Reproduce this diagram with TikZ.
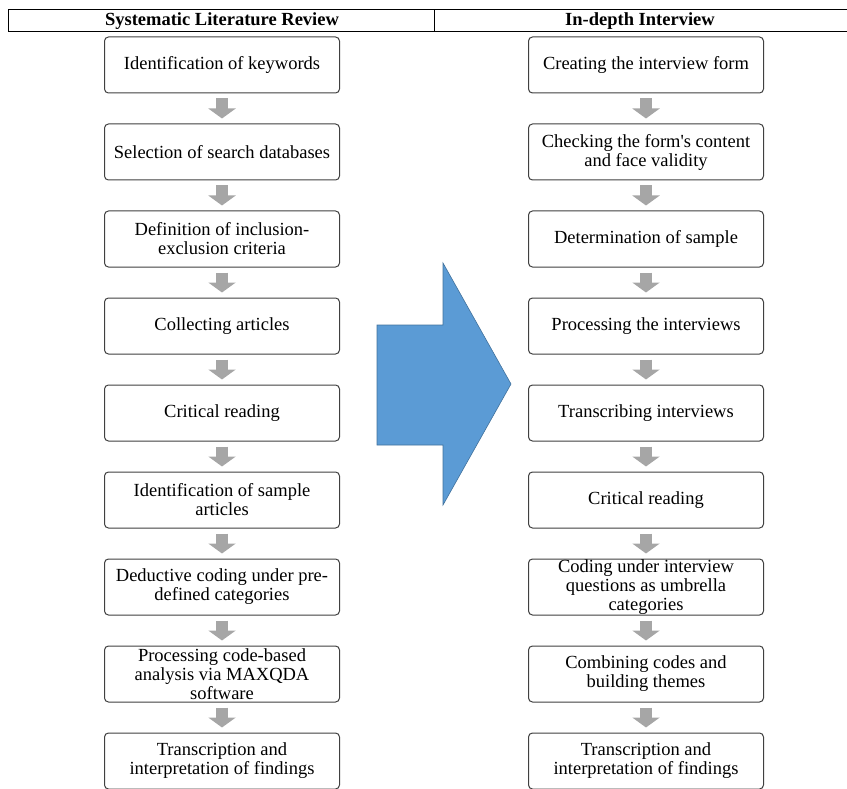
\documentclass[tikz,border=0pt]{standalone}
\usepackage{fontspec}
\setmainfont{Liberation Serif}
\usepackage{tikz}
\usetikzlibrary{arrows.meta, positioning}
\definecolor{boxline}{HTML}{404040}
\definecolor{flowgray}{HTML}{A6A6A6}
\definecolor{bigblue}{HTML}{5B9BD5}
\definecolor{bigblueline}{HTML}{41719C}

\begin{document}
\begin{tikzpicture}[x=1pt, y=1pt, node distance=30pt,
		font=\fontsize{18.5}{19}\selectfont,
		stepbox/.style={draw=boxline, line width=1pt, rounded corners=4pt, fill=white, minimum width=235pt, minimum height=56pt, inner ysep=0pt, align=center},
		flowarrow/.style={-{Triangle[width=27pt, length=10pt]}, line width=12pt, flowgray, shorten <=5pt, shorten >=5pt},
		headtext/.style={font=\fontsize{18.5}{19}\selectfont\bfseries}]
	\useasboundingbox (0,0) rectangle (847,-789);
	% header table
	\draw[line width=1pt] (8,-10) -- (847,-10);
	\draw[line width=1pt] (8,-32) -- (847,-32);
	\draw[line width=0.8pt] (8,-10) -- (8,-32);
	\draw[line width=0.8pt] (434,-10) -- (434,-32);
	\node[headtext] (slrhead) at (222,-21) {Systematic Literature Review};
	\node[headtext] (inthead) at (640,-21) {In-depth Interview};
	% left column
	\node[stepbox] (kw) at (222,-65) {Identification of keywords};
	\node[stepbox, below=of kw] (db) {Selection of search databases};
	\node[stepbox, below=of db] (crit) {Definition of inclusion-\\exclusion criteria};
	\node[stepbox, below=of crit] (coll) {Collecting articles};
	\node[stepbox, below=of coll] (readL) {Critical reading};
	\node[stepbox, below=of readL] (sample) {Identification of sample\\articles};
	\node[stepbox, below=of sample] (deduct) {Deductive coding under pre-\\defined categories};
	\node[stepbox, below=of deduct] (maxqda) {Processing code-based\\analysis via MAXQDA\\software};
	\node[stepbox, below=of maxqda] (findL) {Transcription and\\interpretation of findings};
	% right column
	\node[stepbox, right=188pt of kw] (form) {Creating the interview form};
	\node[stepbox, below=of form] (valid) {Checking the form\textquotesingle s content\\and face validity};
	\node[stepbox, below=of valid] (det) {Determination of sample};
	\node[stepbox, below=of det] (proc) {Processing the interviews};
	\node[stepbox, below=of proc] (trans) {Transcribing interviews};
	\node[stepbox, below=of trans] (readR) {Critical reading};
	\node[stepbox, below=of readR] (coding) {Coding under interview\\questions as umbrella\\categories};
	\node[stepbox, below=of coding] (themes) {Combining codes and\\building themes};
	\node[stepbox, below=of themes] (findR) {Transcription and\\interpretation of findings};
	\foreach \a/\b in {kw/db, db/crit, crit/coll, coll/readL, readL/sample, sample/deduct, deduct/maxqda, maxqda/findL, form/valid, valid/det, det/proc, proc/trans, trans/readR, readR/coding, coding/themes, themes/findR}
	\draw[flowarrow] (\a) -- (\b);
	% big arrow between the columns
	\draw[fill=bigblue, draw=bigblueline, line width=0.6pt] (377,-325) -- (443,-325) -- (443,-263) -- (511,-384) -- (443,-505) -- (443,-445) -- (377,-445) -- cycle;
\end{tikzpicture}
\end{document}
